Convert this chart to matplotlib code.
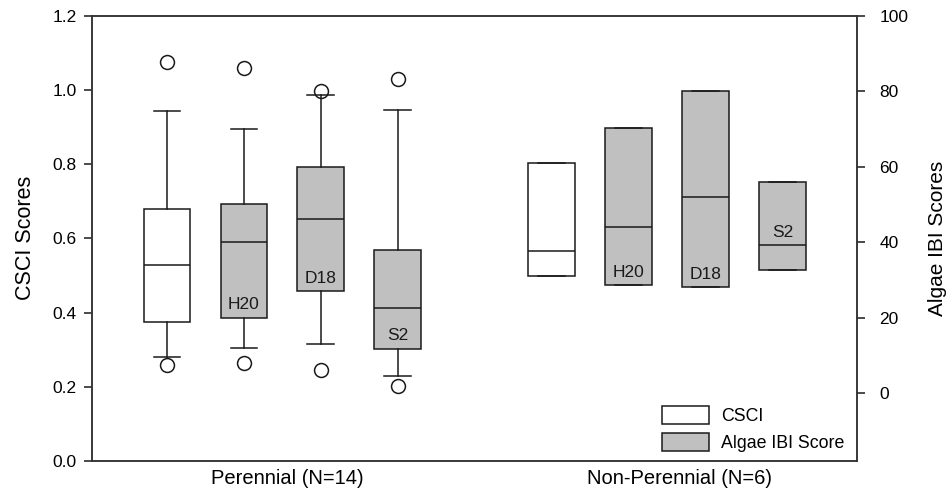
"""CSCI and algae IBI score distributions by stream flow class."""

import matplotlib.pyplot as plt
from matplotlib.patches import Patch

plt.rcParams["font.family"] = ["Liberation Sans Narrow", "Liberation Sans", "DejaVu Sans"]

# Box positions: four boxes per flow class, one empty slot between classes
positions = [1, 2, 3, 4, 6, 7, 8, 9]
index_names = ["CSCI", "H20", "D18", "S2", "CSCI", "H20", "D18", "S2"]
class_labels = ["Perennial (N=14)", "Non-Perennial (N=6)"]
class_ticks = [2.57, 7.66]

# CSCI (left axis)
csci_q1 = [0.375, 0.499]
csci_med = [0.528, 0.566]
csci_q3 = [0.678, 0.802]
csci_lo = [0.281, 0.499]
csci_hi = [0.944, 0.802]
csci_fliers = [[0.259, 1.076], []]

# Algae IBI indices H20, D18, S2 (right axis)
ibi_q1 = [19.9, 26.9, 11.7, 28.5, 28.0, 32.7]
ibi_med = [39.9, 46.1, 22.5, 43.9, 51.9, 39.1]
ibi_q3 = [50.1, 60.0, 37.8, 70.3, 80.1, 55.9]
ibi_lo = [11.9, 13.0, 4.6, 28.5, 28.0, 32.7]
ibi_hi = [70.0, 79.0, 75.0, 70.3, 80.1, 55.9]
ibi_fliers = [[7.9, 86.1], [6.0, 80.1], [2.0, 83.2], [], [], []]


def box_stats(q1, med, q3, lo, hi, fliers):
    return [
        dict(q1=a, med=b, q3=c, whislo=d, whishi=e, fliers=f)
        for a, b, c, d, e, f in zip(q1, med, q3, lo, hi, fliers)
    ]


fig = plt.figure(figsize=(9.47, 4.97), dpi=100)
ax = fig.add_axes([0.0971, 0.0724, 0.808, 0.8964])
ax2 = ax.twinx()

ink = "#1a1a1a"
line = dict(color=ink, linewidth=1.1)
flier = dict(marker="o", markersize=10, markerfacecolor="none",
             markeredgecolor=ink, markeredgewidth=1.1, linestyle="none")

csci_pos = [positions[0], positions[4]]
ibi_pos = positions[1:4] + positions[5:8]

ax.bxp(box_stats(csci_q1, csci_med, csci_q3, csci_lo, csci_hi, csci_fliers),
       positions=csci_pos, widths=0.6, capwidths=0.34, patch_artist=True,
       boxprops=dict(facecolor="white", edgecolor=ink, linewidth=1.1),
       medianprops=line, whiskerprops=line, capprops=line, flierprops=flier,
       manage_ticks=False)
ax2.bxp(box_stats(ibi_q1, ibi_med, ibi_q3, ibi_lo, ibi_hi, ibi_fliers),
        positions=ibi_pos, widths=0.6, capwidths=0.34, patch_artist=True,
        boxprops=dict(facecolor="#c0c0c0", edgecolor=ink, linewidth=1.1),
        medianprops=line, whiskerprops=line, capprops=line, flierprops=flier,
        manage_ticks=False)

# index names written inside the algae boxes, just above the lower quartile
# (above the median for the short non-perennial S2 box)
label_anchor = ibi_q1[:5] + [ibi_med[5]]
for x, y, name in zip(ibi_pos, label_anchor, [n for n in index_names if n != "CSCI"]):
    ax2.annotate(name, (x, y), xytext=(0, 9.5), textcoords="offset points",
                 ha="center", va="center", fontsize=12.5, color=ink)

ax.set_xlim(0.03, 9.97)
ax.set_ylim(0.0, 1.2)
ax.set_yticks([0.0, 0.2, 0.4, 0.6, 0.8, 1.0, 1.2])
ax.set_yticklabels([f"{v:.1f}" for v in ax.get_yticks()])
ax2.set_ylim(-18, 100)
ax2.set_yticks([0, 20, 40, 60, 80, 100])

ax.set_xticks(class_ticks)
ax.set_xticklabels(class_labels, fontsize=14.5)
ax.tick_params(axis="x", length=0, pad=6)
ax.tick_params(axis="y", labelsize=12.5, length=6, width=1.1, color=ink, pad=5)
ax2.tick_params(axis="y", labelsize=12.5, length=6, width=1.1, color=ink, pad=10)

for a in (ax, ax2):
    for spine in a.spines.values():
        spine.set_color("#333333")
        spine.set_linewidth(1.1)

ax.set_ylabel("CSCI Scores", fontsize=15.5, labelpad=12)
ax2.set_ylabel("Algae IBI Scores", fontsize=15, labelpad=14)

handles = [Patch(facecolor="white", edgecolor=ink, linewidth=1.1),
           Patch(facecolor="#c0c0c0", edgecolor=ink, linewidth=1.1)]
ax2.legend(handles, ["CSCI", "Algae IBI Score"], loc="lower right",
           bbox_to_anchor=(1.0, -0.008), frameon=False, fontsize=12.8,
           handlelength=2.64, handleheight=1.2, handletextpad=0.7,
           labelspacing=0.45, borderaxespad=0.3)

fig.savefig("out.png", dpi=100)
